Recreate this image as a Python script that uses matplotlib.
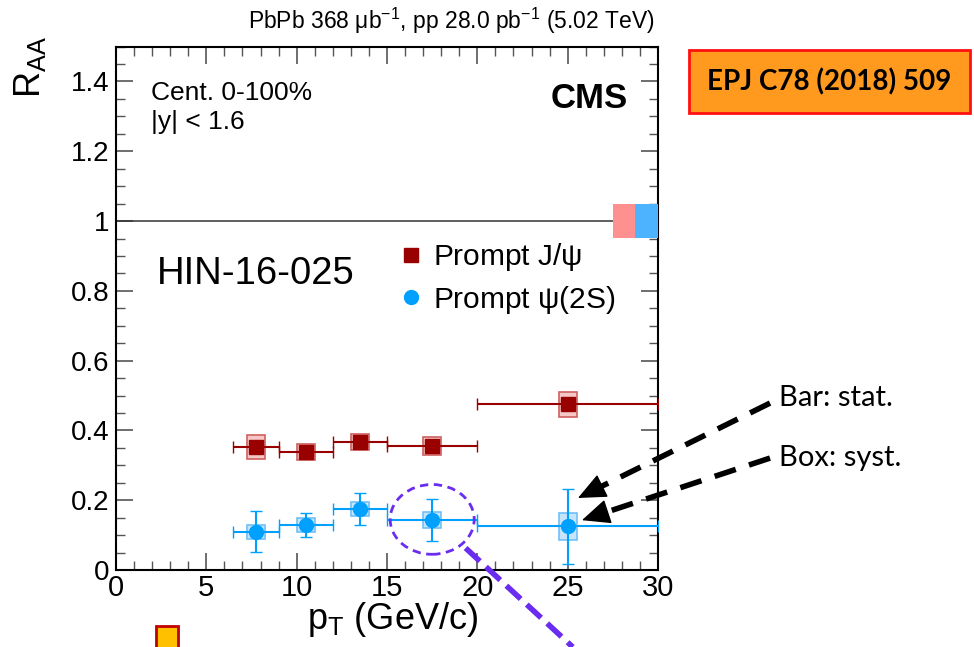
import matplotlib
matplotlib.use("Agg")
import matplotlib.pyplot as plt
from matplotlib.patches import Rectangle, Ellipse, FancyArrowPatch
from matplotlib.lines import Line2D
from matplotlib.ticker import MultipleLocator

plt.rcParams['font.family'] = ['Liberation Sans', 'DejaVu Sans']
plt.rcParams['mathtext.fontset'] = 'custom'
plt.rcParams['mathtext.rm'] = 'Liberation Sans'
plt.rcParams['mathtext.it'] = 'Liberation Sans'

# pT bins
pt = [7.75, 10.5, 13.5, 17.5, 25.0]
pt_lo = [6.5, 9, 12, 15, 20]
pt_hi = [9, 12, 15, 20, 30]

# Prompt J/psi
jpsi = [0.352, 0.338, 0.367, 0.355, 0.475]
jpsi_stat = [0.008, 0.007, 0.007, 0.008, 0.012]
jpsi_syst = [0.035, 0.022, 0.024, 0.025, 0.036]

# Prompt psi(2S)
psi2s = [0.110, 0.129, 0.174, 0.143, 0.125]
psi2s_stat = [0.058, 0.033, 0.046, 0.060, 0.108]
psi2s_syst = [0.020, 0.019, 0.020, 0.022, 0.038]

glob_unc = [0.048, 0.048]  # global uncertainty boxes at RAA = 1

red = '#990000'
blue = '#00A0FF'
calibri = ['Lato', 'DejaVu Sans']

fig = plt.figure(figsize=(9.74, 6.47), dpi=100)
ax = fig.add_axes([0.1191, 0.119, 0.5565, 0.809])
ax.set_xlim(0, 30)
ax.set_ylim(0, 1.5)

ax.axhline(1, color='#333333', lw=1.1)
ax.add_patch(Rectangle((27.5, 1 - glob_unc[0]), 1.25, 2 * glob_unc[0], facecolor='#FF9090', edgecolor='none', zorder=3))
ax.add_patch(Rectangle((28.75, 1 - glob_unc[1]), 1.25, 2 * glob_unc[1], facecolor='#4DB3FF', edgecolor='none', zorder=3))

hw = 0.5
for x, y, s in zip(pt, jpsi, jpsi_syst):
    ax.add_patch(Rectangle((x - hw, y - s), 2 * hw, 2 * s, facecolor='#F7C6C6', edgecolor='#D06060', lw=1.2, zorder=2))
for x, y, s in zip(pt, psi2s, psi2s_syst):
    ax.add_patch(Rectangle((x - hw, y - s), 2 * hw, 2 * s, facecolor='#C6E4FA', edgecolor='#70C0F8', lw=1.2, zorder=2))

xerr_lo = [p - l for p, l in zip(pt, pt_lo)]
xerr_hi = [h - p for p, h in zip(pt, pt_hi)]
ax.errorbar(pt, jpsi, yerr=jpsi_stat, xerr=[xerr_lo, xerr_hi], fmt='s', ms=10, color=red,
            ecolor=red, elinewidth=1.5, capsize=4, zorder=4)
ax.errorbar(pt, psi2s, yerr=psi2s_stat, xerr=[xerr_lo, xerr_hi], fmt='o', ms=10, color=blue,
            ecolor=blue, elinewidth=1.5, capsize=4, zorder=4)

# ROOT-like ticks
ax.xaxis.set_major_locator(MultipleLocator(5))
ax.xaxis.set_minor_locator(MultipleLocator(1))
ax.yaxis.set_minor_locator(MultipleLocator(0.05))
ax.set_yticks([0, 0.2, 0.4, 0.6, 0.8, 1.0, 1.2, 1.4])
ax.set_yticklabels(['0', '0.2', '0.4', '0.6', '0.8', '1', '1.2', '1.4'])
ax.tick_params(which='both', direction='in', top=True, right=True, color='#555555')
ax.tick_params(axis='y', labelsize=20, pad=5)
ax.tick_params(axis='x', labelsize=21, pad=3)
ax.tick_params(which='major', length=12, width=1.2)
ax.tick_params(which='minor', length=6.5, width=1)
for sp in ax.spines.values():
    sp.set_linewidth(1.5)

ax.text(0.064, 0.911, 'Cent. 0-100%', transform=ax.transAxes, fontsize=19, va='center')
ax.text(0.064, 0.856, '|y| < 1.6', transform=ax.transAxes, fontsize=19, va='center')
ax.text(0.945, 0.9, 'CMS', transform=ax.transAxes, fontsize=25, fontweight='bold', ha='right', va='center')
ax.text(0.0757, 0.565, 'HIN-16-025', transform=ax.transAxes, fontsize=27.5, va='center')

handles = [Line2D([], [], marker='s', color=red, ls='none', ms=10),
           Line2D([], [], marker='o', color=blue, ls='none', ms=10)]
ax.legend(handles, ['Prompt J/$\\psi$', 'Prompt $\\psi$(2S)'], loc='upper left',
          bbox_to_anchor=(0.522, 0.628), frameon=False, fontsize=21.5, handletextpad=0.35,
          labelspacing=0.35, handlelength=0.8, borderpad=0, borderaxespad=0)

fig.text(0.672, 0.967, 'PbPb 368 $\\mu$b$^{-1}$, pp 28.0 pb$^{-1}$ (5.02 TeV)', fontsize=16.5, ha='right', va='center')
fig.text(0.031, 0.896, 'R$_{\\mathregular{AA}}$', fontsize=26, rotation=90, ha='center', va='center')
fig.text(0.403, 0.028, 'p$_{\\mathregular{T}}$ (GeV/c)', fontsize=26, ha='center', va='baseline')

# publication label
fig.patches.append(Rectangle((0.707, 0.826), 0.289, 0.097, transform=fig.transFigure,
                             facecolor='#FF9A1E', edgecolor='#FF1010', lw=2, figure=fig))
fig.text(0.851, 0.873, 'EPJ C78 (2018) 509', fontsize=20, fontweight='bold', ha='center', va='center',
         family=calibri)

# small yellow box bottom left
fig.patches.append(Rectangle((0.160, -0.01), 0.023, 0.042, transform=fig.transFigure,
                             facecolor='#FFC000', edgecolor='#C00000', lw=2, figure=fig))

# annotations
fig.text(0.80, 0.385, 'Bar: stat.', fontsize=21, va='center', family=calibri)
fig.text(0.80, 0.292, 'Box: syst.', fontsize=21, va='center', family=calibri)


def dashed_arrow(tail, head, frac=0.105):
    mid = (head[0] + frac * (tail[0] - head[0]), head[1] + frac * (tail[1] - head[1]))
    fig.add_artist(Line2D([tail[0], mid[0]], [tail[1], mid[1]], transform=fig.transFigure,
                          color='black', lw=4, ls=(0, (4, 2.5))))
    fig.add_artist(FancyArrowPatch(mid, head, transform=fig.transFigure, color='black', lw=1,
                                   arrowstyle='-|>,head_length=0.9,head_width=0.4', mutation_scale=20,
                                   shrinkA=0, shrinkB=0))


dashed_arrow((0.7906, 0.377), (0.5934, 0.2303))
dashed_arrow((0.7906, 0.292), (0.5975, 0.196))

purple = '#6A2CF0'
ax.add_patch(Ellipse((17.5, 0.145), 4.65, 0.2, fill=False, edgecolor=purple, lw=2, ls=(0, (3, 2)),
                     clip_on=False, zorder=5))
fig.add_artist(Line2D([0.478, 0.588], [0.153, 0.0], transform=fig.transFigure, color=purple, lw=4,
                      ls=(0, (3.5, 1.5))))

fig.savefig('out.png', dpi=100)
